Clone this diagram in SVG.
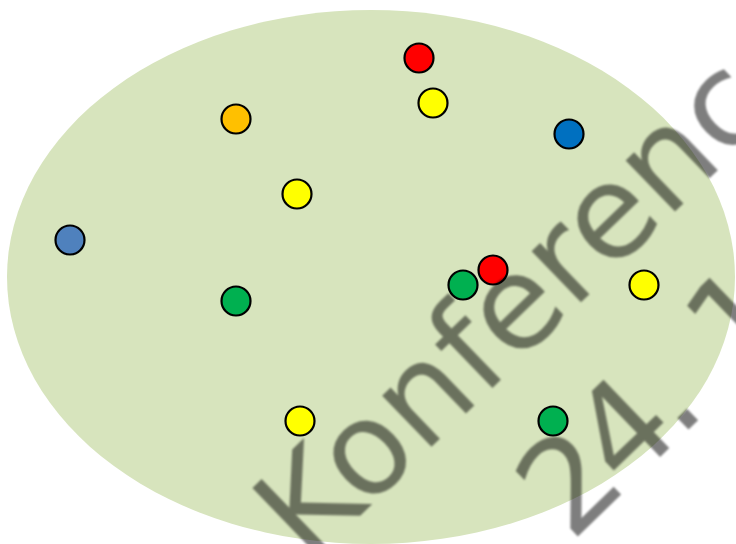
<svg xmlns="http://www.w3.org/2000/svg" width="736" height="544" viewBox="0 0 736 544">
<defs>
<style>
.dot{stroke:#000;stroke-width:2.2}
.r{fill:#ff0000}.y{fill:#ffff00}.o{fill:#ffc000}.b{fill:#0070c0}.sb{fill:#4f81bd}.g{fill:#00b050}
.wm{font-family:"DejaVu Sans",sans-serif;font-size:130px;fill:#000}
</style>
<filter id="blur" x="-10%" y="-10%" width="120%" height="120%"><feGaussianBlur stdDeviation="1.2"/></filter>
</defs>
<rect width="736" height="544" fill="#fff"/>
<ellipse id="set" cx="371" cy="277" rx="364" ry="267" fill="#d7e4bd"/>
<g id="nodes">
<g id="n1"><circle class="dot r" cx="419" cy="58" r="14.5"/></g>
<g id="n2"><circle class="dot y" cx="433" cy="103" r="14.5"/></g>
<g id="n3"><circle class="dot o" cx="236" cy="119" r="14.5"/></g>
<g id="n4"><circle class="dot b" cx="569" cy="134" r="14.5"/></g>
<g id="n5"><circle class="dot y" cx="297" cy="194" r="14.5"/></g>
<g id="n6"><circle class="dot sb" cx="70" cy="240" r="14.5"/></g>
<g id="n7"><circle class="dot g" cx="463" cy="285" r="14.5"/></g>
<g id="n8"><circle class="dot r" cx="493" cy="270" r="14.5"/></g>
<g id="n9"><circle class="dot y" cx="644" cy="285" r="14.5"/></g>
<g id="n10"><circle class="dot g" cx="236" cy="301" r="14.5"/></g>
<g id="n11"><circle class="dot y" cx="300" cy="421" r="14.5"/></g>
<g id="n12"><circle class="dot g" cx="553" cy="421" r="14.5"/></g>
</g>
<g id="connectors"/>
<g id="watermark" opacity="0.5" filter="url(#blur)">
<text class="wm" transform="translate(309,565) rotate(-44)">Konferenc</text>
<text class="wm" transform="translate(571,543) rotate(-44)" letter-spacing="-8">24. <tspan dx="18">1</tspan></text>
</g>
</svg>
